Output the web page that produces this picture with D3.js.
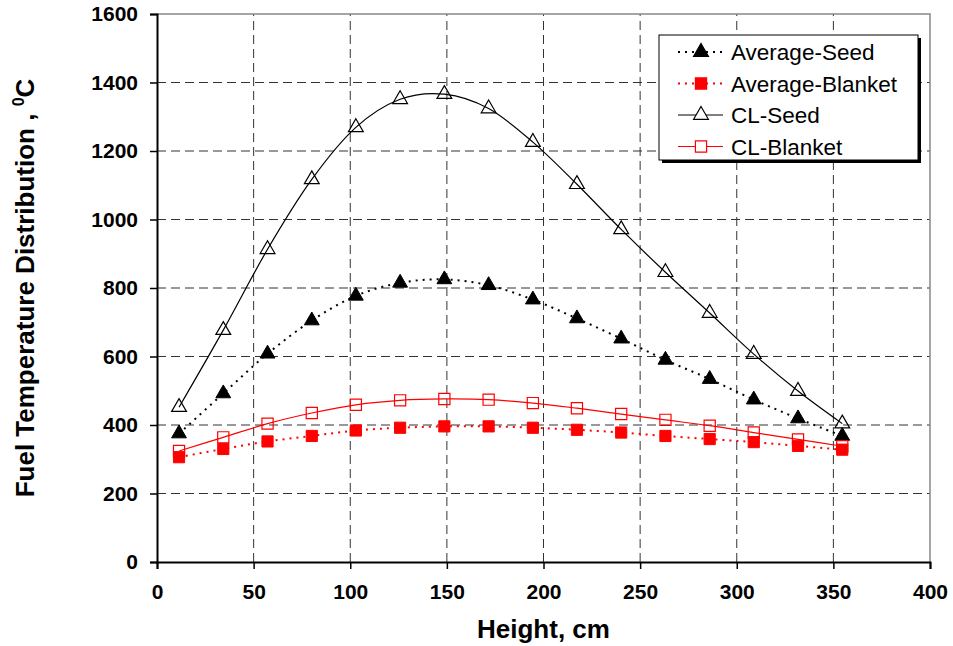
<!DOCTYPE html>
<html>
<head>
<meta charset="utf-8">
<script src="https://cdn.jsdelivr.net/npm/d3@7"></script>
<style>
  body { margin: 0; background: #fff; }
  text { font-family: "Liberation Sans", Arial, sans-serif; }
</style>
</head>
<body>
<svg id="chart"></svg>
<script>
// axial node heights, cm
const heights = [11.4, 34.3, 57.2, 80.1, 102.9, 125.8, 148.7, 171.6, 194.5, 217.3, 240.2, 263.1, 286.0, 308.8, 331.7, 354.6];

const averageSeed = [375, 492, 608, 705, 777, 815, 825, 808, 766, 711, 652, 590, 534, 474, 419, 368];
const averageBlanket = [306, 330, 352, 368, 384, 392, 396, 396, 392, 386, 378, 368, 359, 350, 339, 328];
const clSeed = [452, 677, 913, 1117, 1269, 1351, 1366, 1324, 1226, 1103, 971, 846, 727, 607, 499, 404];
const clBlanket = [324, 364, 404, 435, 459, 472, 476, 474, 464, 449, 432, 415, 398, 378, 358, 338];

const xTicks = [0, 50, 100, 150, 200, 250, 300, 350, 400];
const yTicks = [0, 200, 400, 600, 800, 1000, 1200, 1400, 1600];

const series = [
  { name: "Average-Seed", values: averageSeed, color: "#000", dash: "2,5", width: 2, symbol: d3.symbolTriangle, filled: true },
  { name: "Average-Blanket", values: averageBlanket, color: "#ff0000", dash: "2,5", width: 2, symbol: d3.symbolSquare, filled: true },
  { name: "CL-Seed", values: clSeed, color: "#000", dash: null, width: 1.2, symbol: d3.symbolTriangle, filled: false },
  { name: "CL-Blanket", values: clBlanket, color: "#ff0000", dash: null, width: 1.2, symbol: d3.symbolSquare, filled: false }
];

const width = 953;
const height = 646;
const margin = { top: 14, right: 23, bottom: 84, left: 157 };

const svg = d3.select("#chart").attr("width", width).attr("height", height);

const x = d3.scaleLinear().domain([0, 400]).range([margin.left, width - margin.right]);
const y = d3.scaleLinear().domain([0, 1600]).range([height - margin.bottom, margin.top]);

const markerSize = s => s.symbol === d3.symbolSquare ? 125 : 95;

// grid
svg.append("g")
  .selectAll("line")
  .data(xTicks.slice(1, -1))
  .join("line")
  .attr("x1", d => x(d)).attr("x2", d => x(d))
  .attr("y1", y(0)).attr("y2", y(1600))
  .attr("stroke", "#333").attr("stroke-dasharray", "9,5");

svg.append("g")
  .selectAll("line")
  .data(yTicks.slice(1, -1))
  .join("line")
  .attr("x1", x(0)).attr("x2", x(400))
  .attr("y1", d => y(d)).attr("y2", d => y(d))
  .attr("stroke", "#333").attr("stroke-dasharray", "9,5");

// top & right frame
svg.append("path")
  .attr("d", `M${x(0)},${y(1600)}H${x(400)}V${y(0)}`)
  .attr("fill", "none").attr("stroke", "#888").attr("stroke-width", 1.5);

// axes
const xAxis = svg.append("g")
  .attr("transform", `translate(0,${y(0)})`)
  .call(d3.axisBottom(x).tickValues(xTicks).tickFormat(d3.format("d")).tickSize(7).tickPadding(15));

const yAxis = svg.append("g")
  .attr("transform", `translate(${x(0)},0)`)
  .call(d3.axisLeft(y).tickValues(yTicks).tickFormat(d3.format("d")).tickSize(7).tickPadding(12));

[xAxis, yAxis].forEach(g => {
  g.select(".domain").attr("stroke", "#000").attr("stroke-width", 2);
  g.selectAll(".tick line").attr("stroke", "#000").attr("stroke-width", 1.5);
  g.selectAll(".tick text")
    .attr("font-family", "Liberation Sans, Arial, sans-serif")
    .attr("font-size", 21).attr("font-weight", "bold").attr("fill", "#000");
});

// series
const line = d3.line()
  .curve(d3.curveCardinal.tension(0))
  .x((d, i) => x(heights[i]))
  .y(d => y(d));

series.forEach(s => {
  svg.append("path")
    .datum(s.values)
    .attr("fill", "none")
    .attr("stroke", s.color)
    .attr("stroke-width", s.width)
    .attr("stroke-dasharray", s.dash)
    .attr("d", line);

  svg.append("g")
    .selectAll("path")
    .data(s.values)
    .join("path")
    .attr("transform", (d, i) => `translate(${x(heights[i])},${y(d)})`)
    .attr("d", d3.symbol().type(s.symbol).size(markerSize(s)))
    .attr("fill", s.filled ? s.color : "none")
    .attr("stroke", s.color)
    .attr("stroke-width", s.filled ? 1 : 1.2);
});

// axis titles
svg.append("text")
  .attr("x", (x(0) + x(400)) / 2)
  .attr("y", 638)
  .attr("text-anchor", "middle")
  .attr("font-size", 26).attr("font-weight", "bold")
  .text("Height, cm");

const yTitle = svg.append("text")
  .attr("transform", `translate(34,${(y(0) + y(1600)) / 2}) rotate(-90)`)
  .attr("text-anchor", "middle")
  .attr("font-size", 26).attr("font-weight", "bold");
yTitle.append("tspan").text("Fuel Temperature Distribution , ");
yTitle.append("tspan").attr("font-size", 16).attr("dy", -10).text("0");
yTitle.append("tspan").attr("dy", 10).text("C");

// legend
const legend = svg.append("g").attr("transform", "translate(659,35)");
legend.append("rect").attr("x", 3).attr("y", 3).attr("width", 259).attr("height", 125).attr("fill", "#000");
legend.append("rect").attr("width", 259).attr("height", 125).attr("fill", "#fff").attr("stroke", "#000").attr("stroke-width", 1);

series.forEach((s, i) => {
  const row = legend.append("g").attr("transform", `translate(0,${17 + i * 31.5})`);
  row.append("line")
    .attr("x1", 19).attr("x2", 64)
    .attr("stroke", s.color).attr("stroke-width", s.width)
    .attr("stroke-dasharray", s.dash);
  row.append("path")
    .attr("transform", "translate(42,0)")
    .attr("d", d3.symbol().type(s.symbol).size(markerSize(s)))
    .attr("fill", s.filled ? s.color : "#fff")
    .attr("stroke", s.color).attr("stroke-width", 1.2);
  row.append("text")
    .attr("x", 72).attr("y", 8)
    .attr("font-size", 22.5)
    .text(s.name);
});
</script>
</body>
</html>
